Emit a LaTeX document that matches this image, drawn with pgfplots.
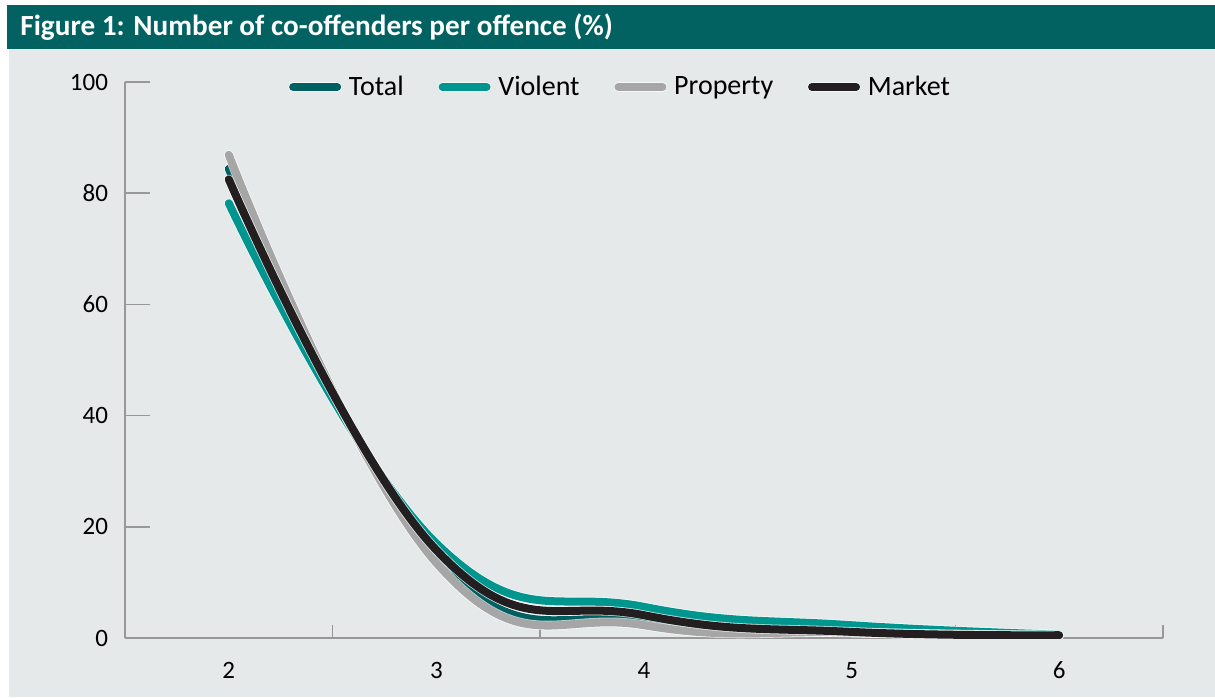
\documentclass[border=0pt]{standalone}
\usepackage{pgfplots}
\pgfplotsset{compat=1.18}
\usepackage{fontspec}
\setmainfont{Carlito}

\definecolor{titlebar}{HTML}{026262}
\definecolor{panel}{HTML}{E5E9EA}
\definecolor{cTotal}{HTML}{005F60}
\definecolor{cViolent}{HTML}{00968F}
\definecolor{cProperty}{HTML}{A6A6A6}
\definecolor{cMarket}{HTML}{231F20}
\definecolor{axisgray}{HTML}{989898}

\pgfplotstableread{
x total violent property market
2 84.4 78.2 86.9 82.5
3 14.4 17.0 13.5 15.8
4  2.8  5.6  2.3  4.1
5  1.0  2.3  1.0  1.1
6  0.5  0.6  0.4  0.5
}\cooffenders

\begin{document}
\begin{tikzpicture}
% page, panel and title bar
\path[fill=white] (-62.5pt,-29.5pt) rectangle (545pt,319pt);
\path[fill=panel] (-58pt,-29.5pt) rectangle (545pt,294.5pt);
\path[fill=titlebar] (-59pt,294.5pt) rectangle (545pt,316.5pt);
\node[anchor=west, text=white, font=\bfseries\fontsize{14.6}{17}\selectfont, inner sep=0pt]
  at (-52.5pt,305.5pt) {Figure 1: Number of co-offenders per offence (\%)};

\begin{axis}[
  scale only axis,
  width=519pt, height=278pt,
  xmin=1.5, xmax=6.5, ymin=0, ymax=100,
  axis x line*=bottom, axis y line*=left,
  axis line style={draw=axisgray, line width=0.75pt, -},
  xtick={2,3,4,5,6},
  minor xtick={1.5,2.5,3.5,4.5,5.5,6.5},
  ytick={0,20,40,60,80,100},
  tick align=inside,
  major tick length=12.5pt,
  minor tick length=6.5pt,
  major x tick style={draw=none},
  minor x tick style={draw=axisgray, line width=0.75pt},
  major y tick style={draw=axisgray, line width=0.75pt},
  /pgf/number format/assume math mode=true,
  tick label style={font=\fontsize{12.5}{15}\selectfont, text=black},
  yticklabel style={xshift=-5pt},
  xticklabel style={yshift=-8.5pt},
  legend style={
    at={(0.478,0.991)}, anchor=center,
    draw=none, fill=none,
    legend columns=4,
    font=\fontsize{14}{16}\selectfont,
    /tikz/every odd column/.append style={column sep=1.5pt},
    /tikz/every even column/.append style={column sep=15pt},
  },
  legend image code/.code={
    \draw[line width=4pt, line cap=round, #1] (2pt,0pt) -- (24pt,0pt);
  },
  every axis plot/.append style={
    smooth, tension=0.75, line width=4pt, line cap=round, line join=round,
    preaction={draw=white, line width=4.8pt, opacity=0.7},
  },
]
\addplot[cTotal]    table[x=x, y=total]    {\cooffenders};
\addplot[cViolent]  table[x=x, y=violent]  {\cooffenders};
\addplot[cProperty] table[x=x, y=property] {\cooffenders};
\addplot[cMarket]   table[x=x, y=market]   {\cooffenders};
\legend{Total, Violent, Property, Market}
\end{axis}
\end{tikzpicture}
\end{document}
